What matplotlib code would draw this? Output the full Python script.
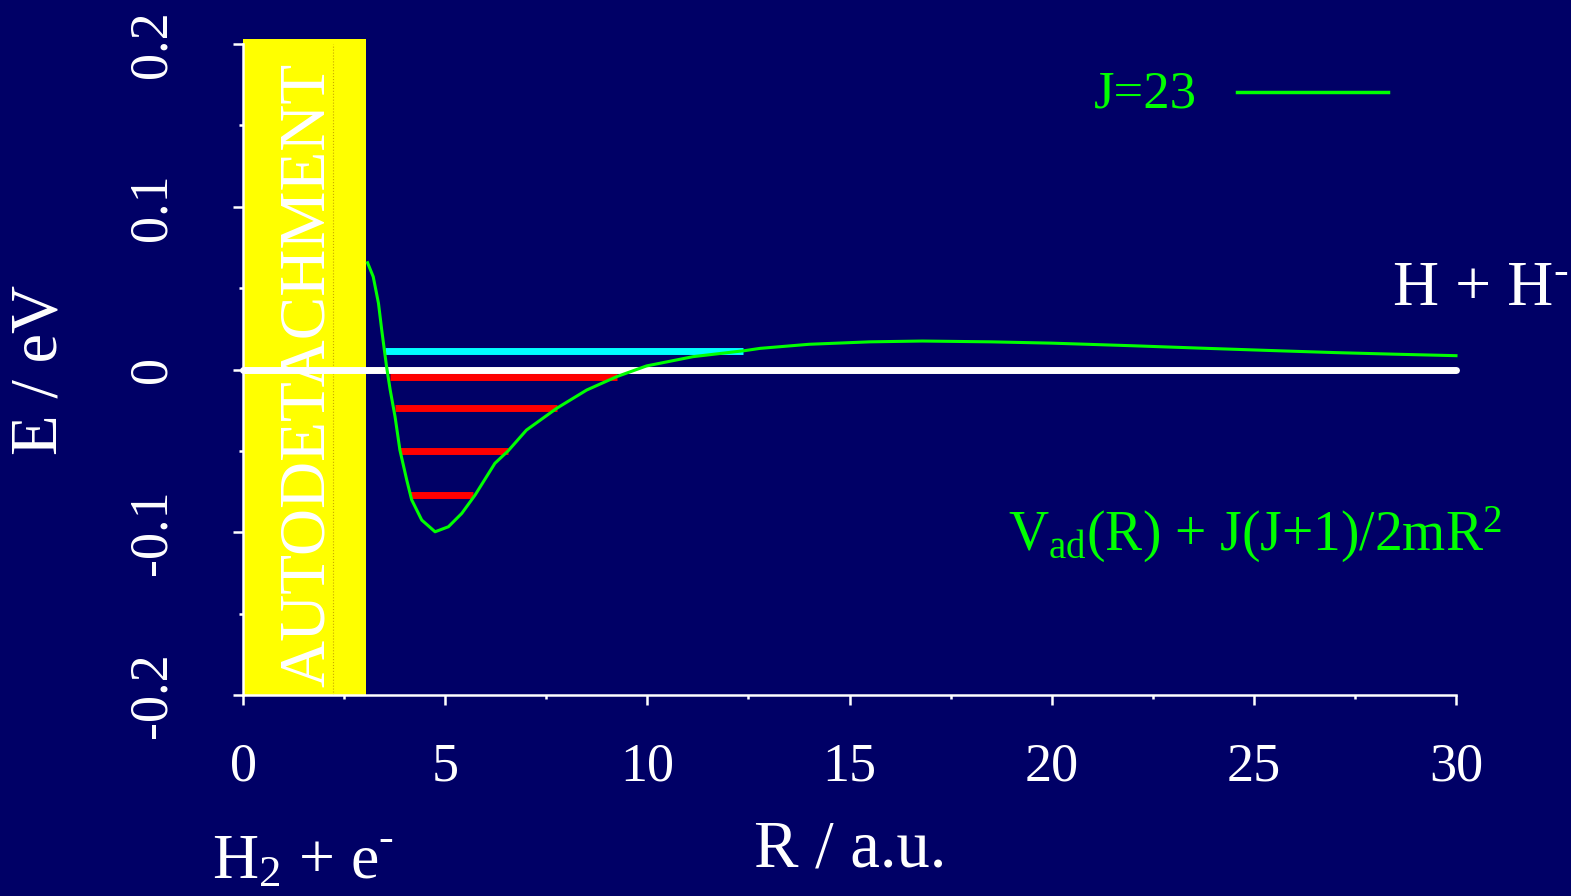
import numpy as np
import matplotlib
matplotlib.use('Agg')
import matplotlib.pyplot as plt

# effective potential V_ad(R) + J(J+1)/2mR^2, J=23
R_curve = [3.08, 3.22, 3.35, 3.43, 3.55, 3.64, 3.76, 3.88, 4.05, 4.17, 4.42, 4.75,
           5.08, 5.41, 5.74, 6.23, 6.56, 7.01, 7.76, 8.50, 9.24, 9.98, 11.13, 12.41,
           12.79, 14.0, 15.5, 16.8, 18.5, 20.0, 22.0, 23.6, 25.5, 27.0, 28.5, 30.0]
E_curve = [0.0656, 0.057, 0.0407, 0.0243, 0.0017, -0.0126, -0.029, -0.0495, -0.068,
           -0.080, -0.0925, -0.0997, -0.0966, -0.0884, -0.0771, -0.0576, -0.0499,
           -0.0372, -0.0238, -0.0126, -0.0044, 0.0022, 0.0079, 0.0116, 0.0130, 0.0155,
           0.0170, 0.0175, 0.0170, 0.0162, 0.0146, 0.0132, 0.0116, 0.0104, 0.0094, 0.0085]

# bound levels (red) and quasi-bound level (cyan)
bound_E = [-0.0044, -0.0235, -0.0499, -0.0771]
bound_Rmin = [3.64, 3.76, 3.88, 4.13]
bound_Rmax = [9.24, 7.76, 6.56, 5.70]
qb_E = 0.0116
qb_R = [3.51, 12.37]

bg = '#000066'
green = '#00ff00'
plt.rcParams['font.family'] = ['Liberation Serif', 'DejaVu Serif']
plt.rcParams['mathtext.fontset'] = 'custom'
plt.rcParams['mathtext.rm'] = 'Liberation Serif'
plt.rcParams['mathtext.it'] = 'Liberation Serif'

fig = plt.figure(figsize=(15.71, 8.96), dpi=100, facecolor=bg)
ax = fig.add_axes([0.1547, 0.2243, 0.7721, 0.7266], facecolor=bg)
ax.set_xlim(0, 30)
ax.set_ylim(-0.2, 0.2)

# autodetachment region
ax.fill_between([0, 3.04], -0.2, 0.203, color='#ffff00', zorder=1, clip_on=False, lw=0)
ax.plot([2.23, 2.23], [-0.2, 0.2], ls=':', lw=0.8, color='#c8a800', zorder=2)
ax.text(1.6, -0.003, 'AUTODETACHMENT', rotation=90, color='white', fontsize=47,
        ha='center', va='center', zorder=3)

# zero line
ax.plot([0, 30], [0, 0], color='white', lw=5, solid_capstyle='round', zorder=4, clip_on=False)

# levels
for e, r0, r1 in zip(bound_E, bound_Rmin, bound_Rmax):
    ax.plot([r0, r1], [e, e], color='#ff0000', lw=5, solid_capstyle='butt', zorder=3)
ax.plot(qb_R, [qb_E, qb_E], color='#00ffff', lw=5, solid_capstyle='butt', zorder=3)

ax.plot(R_curve, E_curve, color=green, lw=2.2, zorder=5, clip_on=False)

# axes styling
for s in ['top', 'right']:
    ax.spines[s].set_visible(False)
for s in ['left', 'bottom']:
    ax.spines[s].set_color('white')
    ax.spines[s].set_linewidth(1.8)
ax.set_xticks([0, 5, 10, 15, 20, 25, 30])
ax.set_xticks(np.arange(0, 30.1, 2.5), minor=True)
ax.set_yticks([-0.2, -0.1, 0, 0.1, 0.2])
ax.set_yticklabels(['-0.2', '-0.1', '0', '0.1', '0.2'])
ax.set_yticks(np.arange(-0.2, 0.201, 0.05), minor=True)
ax.tick_params(which='major', colors='white', length=7, width=1.8, labelsize=39)
ax.tick_params(which='minor', colors='white', length=3, width=1.8)
ax.tick_params(axis='x', which='major', pad=27)
ax.tick_params(axis='y', which='major', pad=40)
for lbl in ax.get_yticklabels():
    lbl.set_rotation(90)
    lbl.set_va('center')

# labels
fig.text(40 / 1571, 1 - 370 / 896, 'E / eV', rotation=90, color='white', fontsize=48,
         ha='center', va='center')
fig.text(850 / 1571, 1 - 850 / 896, 'R / a.u.', color='white', fontsize=48,
         ha='center', va='center')
t1 = fig.text(212 / 1571, 1 - 878 / 896, r'H$_2$ + e', color='white', fontsize=46,
              ha='left', va='baseline')
ax.annotate('-', xy=(1.0, 0.55), xycoords=t1, color='white', fontsize=32,
            ha='left', va='bottom', annotation_clip=False)
t2 = fig.text(1393 / 1571, 1 - 305 / 896, 'H + H', color='white', fontsize=46,
              ha='left', va='baseline')
ax.annotate('-', xy=(1.0, 0.45), xycoords=t2, color='white', fontsize=32,
            ha='left', va='bottom', annotation_clip=False)
fig.text(1255 / 1571, 1 - 535 / 896, r'V$_{\rm ad}$(R) + J(J+1)/2mR$^2$', color=green,
         fontsize=40, ha='center', va='center')
fig.text(1145 / 1571, 1 - 95 / 896, 'J=23', color=green, fontsize=38, ha='center', va='center')
fig.add_artist(plt.Line2D([1237 / 1571, 1388 / 1571], [1 - 92 / 896, 1 - 92 / 896],
                          color=green, lw=2.5, transform=fig.transFigure))

fig.savefig('out.png', dpi=100, facecolor=bg)
